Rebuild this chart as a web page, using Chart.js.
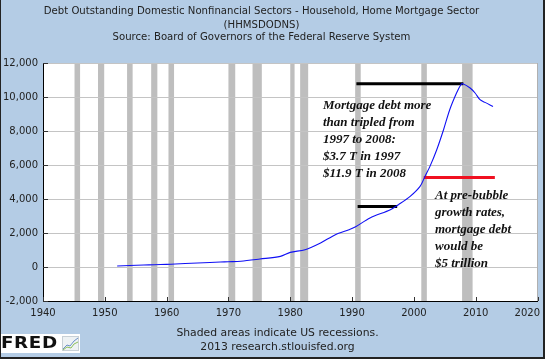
<!DOCTYPE html>
<html>
<head>
<meta charset="utf-8">
<script src="https://cdn.jsdelivr.net/npm/chart.js@4/dist/chart.umd.min.js"></script>
<style>
  html, body { margin: 0; padding: 0; }
  #wrap {
    position: relative; width: 545px; height: 359px; overflow: hidden;
    background: #B4CCE5; box-sizing: border-box;
    border-left: 1px solid #222; border-right: 2px solid #222; border-bottom: 2px solid #222;
    font-family: "DejaVu Sans", Verdana, sans-serif; color: #222;
  }
  #c { position: absolute; left: 0; top: 0; }
  .t { position: absolute; left: 0; width: 521px; text-align: center; font-size: 10.15px; line-height: 12px; white-space: nowrap; }
  .note { position: absolute; font-family: "Liberation Serif", "Times New Roman", serif; font-style: italic; font-weight: bold;
          font-size: 13px; line-height: 17px; color: #111; white-space: nowrap; }
  .foot { position: absolute; left: 0; width: 553px; text-align: center; font-size: 10.8px; line-height: 14px; white-space: nowrap; }
  #fred { position: absolute; left: 0; top: 334px; width: 79px; height: 19px; background: #fff; }
  #fred span { position: absolute; left: 0px; top: -1px; font-family: "DejaVu Sans", sans-serif; font-weight: bold;
               font-size: 15px; line-height: 20px; color: #111; letter-spacing: 0.5px; transform: scaleX(1.22); transform-origin: left center; }
  #fred svg { position: absolute; left: 61px; top: 2px; }
</style>
</head>
<body>
<div id="wrap">
  <canvas id="c" width="542" height="357"></canvas>
  <div class="t" style="top:5px">Debt Outstanding Domestic Nonfinancial Sectors - Household, Home Mortgage Sector</div>
  <div class="t" style="top:19px">(HHMSDODNS)</div>
  <div class="t" style="top:31px">Source: Board of Governors of the Federal Reserve System</div>
  <div class="note" style="left:322px; top:96px">Mortgage debt more<br>than tripled from<br>1997 to 2008:<br>$3.7 T in 1997<br>$11.9 T in 2008</div>
  <div class="note" style="left:434px; top:186px">At pre-bubble<br>growth rates,<br>mortgage debt<br>would be<br>$5 trillion</div>
  <div class="foot" style="top:326px">Shaded areas indicate US recessions.</div>
  <div class="foot" style="top:340px">2013 research.stlouisfed.org</div>
  <div id="fred"><span>FRED</span>
    <svg width="17" height="15" viewBox="0 0 17 15">
      <rect x="0.5" y="0.5" width="16" height="14" fill="#eef2f4" stroke="#c8d0d6"/>
      <polyline points="1,13 5,9 8,10 12,5 16,2" fill="none" stroke="#6a8fc8" stroke-width="1"/>
      <polyline points="1,14 5,11 9,12 12,8 16,6" fill="none" stroke="#8bbf5a" stroke-width="1"/>
    </svg>
  </div>
</div>
<script>
// ---- data (billions of dollars) ----
const years = [1952.0, 1954.0, 1956.3, 1958.0, 1960.0, 1961.4, 1963.0, 1965.0, 1967.0, 1968.7,
               1970.0, 1972.0, 1975.1, 1978.4, 1980.0, 1982.4, 1984.9, 1987.3, 1989.5, 1990.5,
               1992.9, 1996.2, 1997.5, 1999.4, 2001.0, 2001.8, 2002.6, 2003.7, 2004.8, 2005.8,
               2006.9, 2007.6, 2007.9, 2009.1, 2009.9, 2010.7, 2011.5, 2012.8];
const debt  = [60, 85, 115, 135, 155, 176, 205, 235, 265, 294,
               312, 340, 470, 624, 860, 1018, 1412, 1900, 2194, 2350,
               2882, 3370, 3665, 4153, 4741, 5329, 5918, 6900, 8076, 9253,
               10235, 10724, 10782, 10529, 10235, 9841, 9684, 9447];

// recession periods (start, end as decimal years)
const recStart = [1945.1, 1948.9, 1953.6, 1957.5, 1960.3, 1970.0, 1973.9, 1980.0, 1981.6, 1990.5, 2001.2, 2007.8];
const recEnd   = [1946.0, 1949.9, 1954.5, 1958.5, 1961.2, 1971.1, 1975.4, 1980.7, 1982.9, 1991.4, 2002.1, 2009.5];

// annotation reference lines
const peakLineX = [1990.7, 2008.0];  const peakLineY = 10780;
const lowLineX  = [1990.9, 1997.3];  const lowLineY  = 3560;
const trendLineX = [2001.6, 2013.1]; const trendLineY = 5270;

const yTicks = [-2000, 0, 2000, 4000, 6000, 8000, 10000, 12000];
const xTicks = [1940, 1950, 1960, 1970, 1980, 1990, 2000, 2010, 2020];

const pts = years.map((y, i) => ({ x: y, y: debt[i] }));
const seg = (xs, yv) => xs.map(x => ({ x: x, y: yv }));

const bgPlugin = {
  id: 'bg',
  beforeDraw(chart) {
    const { ctx, chartArea: a, scales } = chart;
    ctx.save();
    ctx.fillStyle = '#ffffff';
    ctx.fillRect(a.left, a.top, a.right - a.left, a.bottom - a.top);
    ctx.fillStyle = '#BEBEBE';
    recStart.forEach((s, i) => {
      const x0 = scales.x.getPixelForValue(s), x1 = scales.x.getPixelForValue(recEnd[i]);
      ctx.fillRect(x0, a.top, x1 - x0, a.bottom - a.top);
    });
    ctx.restore();
  },
  afterDraw(chart) {
    const { ctx, chartArea: a, scales } = chart;
    ctx.save();
    ctx.strokeStyle = '#333';
    ctx.lineWidth = 1;
    ctx.beginPath();
    scales.y.ticks.forEach(t => {
      const y = Math.round(scales.y.getPixelForValue(t.value)) + 0.5;
      ctx.moveTo(a.left, y); ctx.lineTo(a.left + 5, y);
    });
    scales.x.ticks.forEach(t => {
      const x = Math.round(scales.x.getPixelForValue(t.value)) + 0.5;
      ctx.moveTo(x, a.bottom); ctx.lineTo(x, a.bottom - 4);
    });
    ctx.stroke();
    ctx.strokeStyle = '#b0b0b0';
    ctx.beginPath();
    ctx.moveTo(Math.round(a.right) - 0.5, a.top); ctx.lineTo(Math.round(a.right) - 0.5, a.bottom);
    ctx.stroke();
    // x tick labels, kept inside the canvas
    ctx.fillStyle = '#222';
    ctx.font = '10px "DejaVu Sans"';
    ctx.textBaseline = 'top';
    ctx.textAlign = 'left';
    const maxRight = chart.width - 3;
    scales.x.ticks.forEach(t => {
      const label = String(t.value);
      const w = ctx.measureText(label).width;
      let x = scales.x.getPixelForValue(t.value) - w / 2;
      if (x + w > maxRight) x = maxRight - w;
      ctx.fillText(label, x, a.bottom + 7);
    });
    ctx.restore();
  }
};

new Chart(document.getElementById('c'), {
  type: 'line',
  data: {
    datasets: [
      { data: pts, borderColor: '#1010F5', borderWidth: 1.1, pointRadius: 0, tension: 0.3, order: 1 },
      { data: seg(peakLineX, peakLineY), borderColor: '#000', borderWidth: 3, pointRadius: 0, order: 2 },
      { data: seg(lowLineX, lowLineY), borderColor: '#000', borderWidth: 3, pointRadius: 0, order: 2 },
      { data: seg(trendLineX, trendLineY), borderColor: '#F01020', borderWidth: 3, pointRadius: 0, order: 2 }
    ]
  },
  options: {
    responsive: false,
    animation: false,
    devicePixelRatio: 1,
    layout: { padding: { top: 63, right: 5.5, left: 0, bottom: 0 } },
    plugins: { legend: { display: false }, tooltip: { enabled: false } },
    scales: {
      x: {
        type: 'linear', min: 1940, max: 2020,
        afterBuildTicks: s => { s.ticks = xTicks.map(v => ({ value: v })); },
        afterFit: s => { s.height = 56; s.paddingLeft = 0; s.paddingRight = 0; },
        grid: { display: false, drawTicks: false },
        border: { color: '#000', width: 1 },
        ticks: { display: false }
      },
      y: {
        min: -2000, max: 12000,
        afterBuildTicks: s => { s.ticks = yTicks.map(v => ({ value: v })); },
        afterFit: s => { s.width = 42; s.paddingTop = 0; s.paddingBottom = 0; },
        grid: { color: '#C4C4C4', lineWidth: 1, drawTicks: false },
        border: { color: '#000', width: 1 },
        ticks: { padding: 5, color: '#222', font: { family: 'DejaVu Sans', size: 10 },
                 callback: v => v.toLocaleString('en-US') }
      }
    }
  },
  plugins: [bgPlugin]
});
</script>
</body>
</html>
